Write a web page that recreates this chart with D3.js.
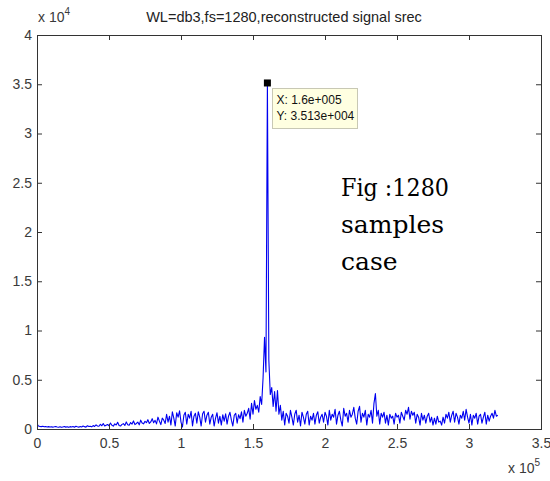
<!DOCTYPE html>
<html>
<head>
<meta charset="utf-8">
<script src="https://cdn.jsdelivr.net/npm/d3@7"></script>
<style>
  body { margin: 0; background: #fff; }
  svg { display: block; }
</style>
</head>
<body>
<script>
// Reconstructed signal spectrum, one value per 1000 units along x (0 .. 320000)
const sampleStep = 1000;
const srec = [
  520, 300, 260, 240, 280, 220, 250, 210, 240, 200,
  230, 190, 220, 260, 200, 180, 230, 170, 210, 250,
  190, 230, 170, 240, 200, 260, 180, 280, 220, 190,
  260, 210, 300, 240, 190, 330, 250, 280, 220, 350,
  260, 420, 310, 280, 480, 330, 550, 300, 390, 460,
  330, 600, 380, 290, 520, 410, 680, 350, 300, 470,
  540, 360, 720, 430, 380, 650, 500, 820, 450, 560,
  700, 420, 900, 600, 520, 780, 640, 950, 560, 720,
  1050, 640, 880, 520, 1200, 800, 450, 1100, 900, 560,
  1500, 700, 1300, 400, 1750, 1100, 300, 1650, 1200, 1850,
  700, 200, 1400, 1700, 500, 1500, 1100, 1800, 300, 1300,
  1600, 600, 1750, 1200, 300, 1550, 1800, 700, 1400, 1700,
  500, 1200, 1500, 300, 1100, 1650, 600, 1300, 400, 1450,
  800, 1550, 500, 1300, 1700, 900, 300, 1400, 1600, 600,
  1450, 1050, 1750, 700, 1900, 1300, 1600, 2100, 1000, 2600,
  1500, 2900, 2000, 2400, 1700, 3300, 2500, 5200, 9300, 5800,
  35130,
  7000, 3500, 4200, 2300, 3800, 1800, 3900, 1500, 2400,
  900, 1800, 400, 1600, 1300, 600, 1900, 1200, 400, 1500,
  1900, 700, 1400, 300, 1700, 1200, 500, 1500, 1800, 400,
  1300, 900, 1600, 500, 1400, 1750, 600, 1200, 1500, 700,
  1700, 1300, 400, 1900, 900, 1500, 1200, 2000, 500, 1400,
  1800, 900, 300, 2100, 1300, 1600, 700, 1900, 1200, 1500,
  2200, 1100, 500, 1800, 2300, 700, 1600, 1200, 1900, 400,
  1500, 1200, 1900, 600, 2600, 3600, 1300, 1900, 500, 1600,
  1200, 1700, 600, 1400, 400, 1500, 1100, 1300, 500, 1600,
  1200, 1400, 600, 1700, 1300, 900, 1900, 1500, 2200, 1000,
  1800, 1400, 1700, 600, 1500, 1200, 400, 1600, 900, 1400,
  600, 1300, 1600, 700, 1200, 400, 1100, 500, 1300, 700,
  800, 400, 1200, 600, 1500, 1100, 1700, 700, 1400, 1800,
  700, 1600, 1200, 500, 1400, 1100, 1800, 900, 2000, 1200,
  600, 1500, 400, 1400, 1100, 1600, 500, 1300, 1500, 600,
  1200, 1700, 500, 1400, 800, 1300, 1600, 1100, 1900, 1300,
  1400
];

const xTicks = [0, 50000, 100000, 150000, 200000, 250000, 300000, 350000];
const xTickLabels = ["0", "0.5", "1", "1.5", "2", "2.5", "3", "3.5"];
const yTicks = [0, 5000, 10000, 15000, 20000, 25000, 30000, 35000, 40000];
const yTickLabels = ["0", "0.5", "1", "1.5", "2", "2.5", "3", "3.5", "4"];

const titleText = "WL=db3,fs=1280,reconstructed signal srec";
const peakPoint = { x: 160000, y: 35130 };
const tipLines = ["X: 1.6e+005", "Y: 3.513e+004"];
const noteLines = ["Fig :1280", "samples", "case"];

const W = 550, H = 481;
const plot = { left: 37, right: 541, top: 35, bottom: 429 };

const svg = d3.select("body").append("svg")
  .attr("width", W).attr("height", H)
  .style("font-family", "'Liberation Sans', Arial, sans-serif");

svg.append("rect").attr("width", W).attr("height", H).attr("fill", "#fff");

const x = d3.scaleLinear().domain([0, 350000]).range([plot.left, plot.right]);
const y = d3.scaleLinear().domain([0, 40000]).range([plot.bottom, plot.top]);

// clip so the trace stays inside the axes box
svg.append("clipPath").attr("id", "plotClip")
  .append("rect")
  .attr("x", plot.left).attr("y", plot.top)
  .attr("width", plot.right - plot.left).attr("height", plot.bottom - plot.top);

const line = d3.line()
  .x((d, i) => x(i * sampleStep))
  .y(d => y(d));

svg.append("path")
  .datum(srec)
  .attr("clip-path", "url(#plotClip)")
  .attr("fill", "none")
  .attr("stroke", "#0000f0")
  .attr("stroke-width", 1.1)
  .attr("stroke-linejoin", "round")
  .attr("d", line);

const axisColor = "#333";
const labelColor = "#3a3a3a";

function styleAxis(g, showLabels) {
  g.select(".domain").remove();
  g.selectAll(".tick line").attr("stroke", axisColor).attr("stroke-width", 1);
  g.selectAll(".tick text")
    .attr("fill", labelColor)
    .style("font-size", "14px")
    .style("font-family", "'Liberation Sans', Arial, sans-serif")
    .style("display", showLabels ? null : "none");
}

// bottom axis with labels, ticks pointing inward
svg.append("g")
  .attr("transform", `translate(0,${plot.bottom})`)
  .call(d3.axisBottom(x).tickValues(xTicks)
    .tickFormat((d, i) => xTickLabels[i])
    .tickSizeInner(-5).tickSizeOuter(0).tickPadding(9))
  .call(g => styleAxis(g, true));

// top axis, ticks only
svg.append("g")
  .attr("transform", `translate(0,${plot.top})`)
  .call(d3.axisTop(x).tickValues(xTicks).tickSizeInner(-5).tickSizeOuter(0))
  .call(g => styleAxis(g, false));

// left axis with labels
svg.append("g")
  .attr("transform", `translate(${plot.left},0)`)
  .call(d3.axisLeft(y).tickValues(yTicks)
    .tickFormat((d, i) => yTickLabels[i])
    .tickSizeInner(-5).tickSizeOuter(0).tickPadding(5))
  .call(g => styleAxis(g, true));

// right axis, ticks only
svg.append("g")
  .attr("transform", `translate(${plot.right},0)`)
  .call(d3.axisRight(y).tickValues(yTicks).tickSizeInner(-5).tickSizeOuter(0))
  .call(g => styleAxis(g, false));

// axes box
svg.append("rect")
  .attr("x", plot.left + 0.5).attr("y", plot.top + 0.5)
  .attr("width", plot.right - plot.left).attr("height", plot.bottom - plot.top)
  .attr("fill", "none").attr("stroke", axisColor).attr("stroke-width", 1);

// exponent multipliers
function exponentLabel(px, py, exp) {
  const t = svg.append("text")
    .attr("x", px).attr("y", py)
    .attr("fill", labelColor)
    .style("font-size", "14px");
  t.append("tspan").text("x 10");
  t.append("tspan").attr("dy", -7).style("font-size", "10px").text(exp);
}
exponentLabel(plot.left + 1, 22, "4");
exponentLabel(plot.right - 33, 473, "5");

// title
svg.append("text")
  .attr("x", 284).attr("y", 22)
  .attr("text-anchor", "middle")
  .attr("fill", "#222")
  .style("font-size", "14.5px")
  .text(titleText);

// data tip on the peak
const px = x(peakPoint.x), py = y(peakPoint.y);
svg.append("rect")
  .attr("x", px - 3.5).attr("y", py - 3.5)
  .attr("width", 7).attr("height", 7)
  .attr("fill", "#000");

const tip = svg.append("g").attr("transform", `translate(${Math.round(px) + 5.5},${Math.round(py) + 5.5})`);
tip.append("rect")
  .attr("width", 85).attr("height", 40)
  .attr("fill", "#ffffe1").attr("stroke", "#c8c8b4").attr("stroke-width", 1);
tip.selectAll("text.tipline").data(tipLines).join("text")
  .attr("class", "tipline")
  .attr("x", 4).attr("y", (d, i) => 15 + i * 16)
  .attr("fill", "#111")
  .style("font-size", "12px")
  .text(d => d);

// caption placed inside the axes
svg.selectAll("text.note").data(noteLines).join("text")
  .attr("class", "note")
  .attr("x", 341).attr("y", (d, i) => 196 + i * 37)
  .attr("fill", "#000")
  .style("font-family", "'DejaVu Serif', serif")
  .style("font-size", "25px")
  .attr("textLength", (d, i) => i === 0 ? 108 : null)
  .attr("lengthAdjust", "spacingAndGlyphs")
  .text(d => d);
</script>
</body>
</html>
